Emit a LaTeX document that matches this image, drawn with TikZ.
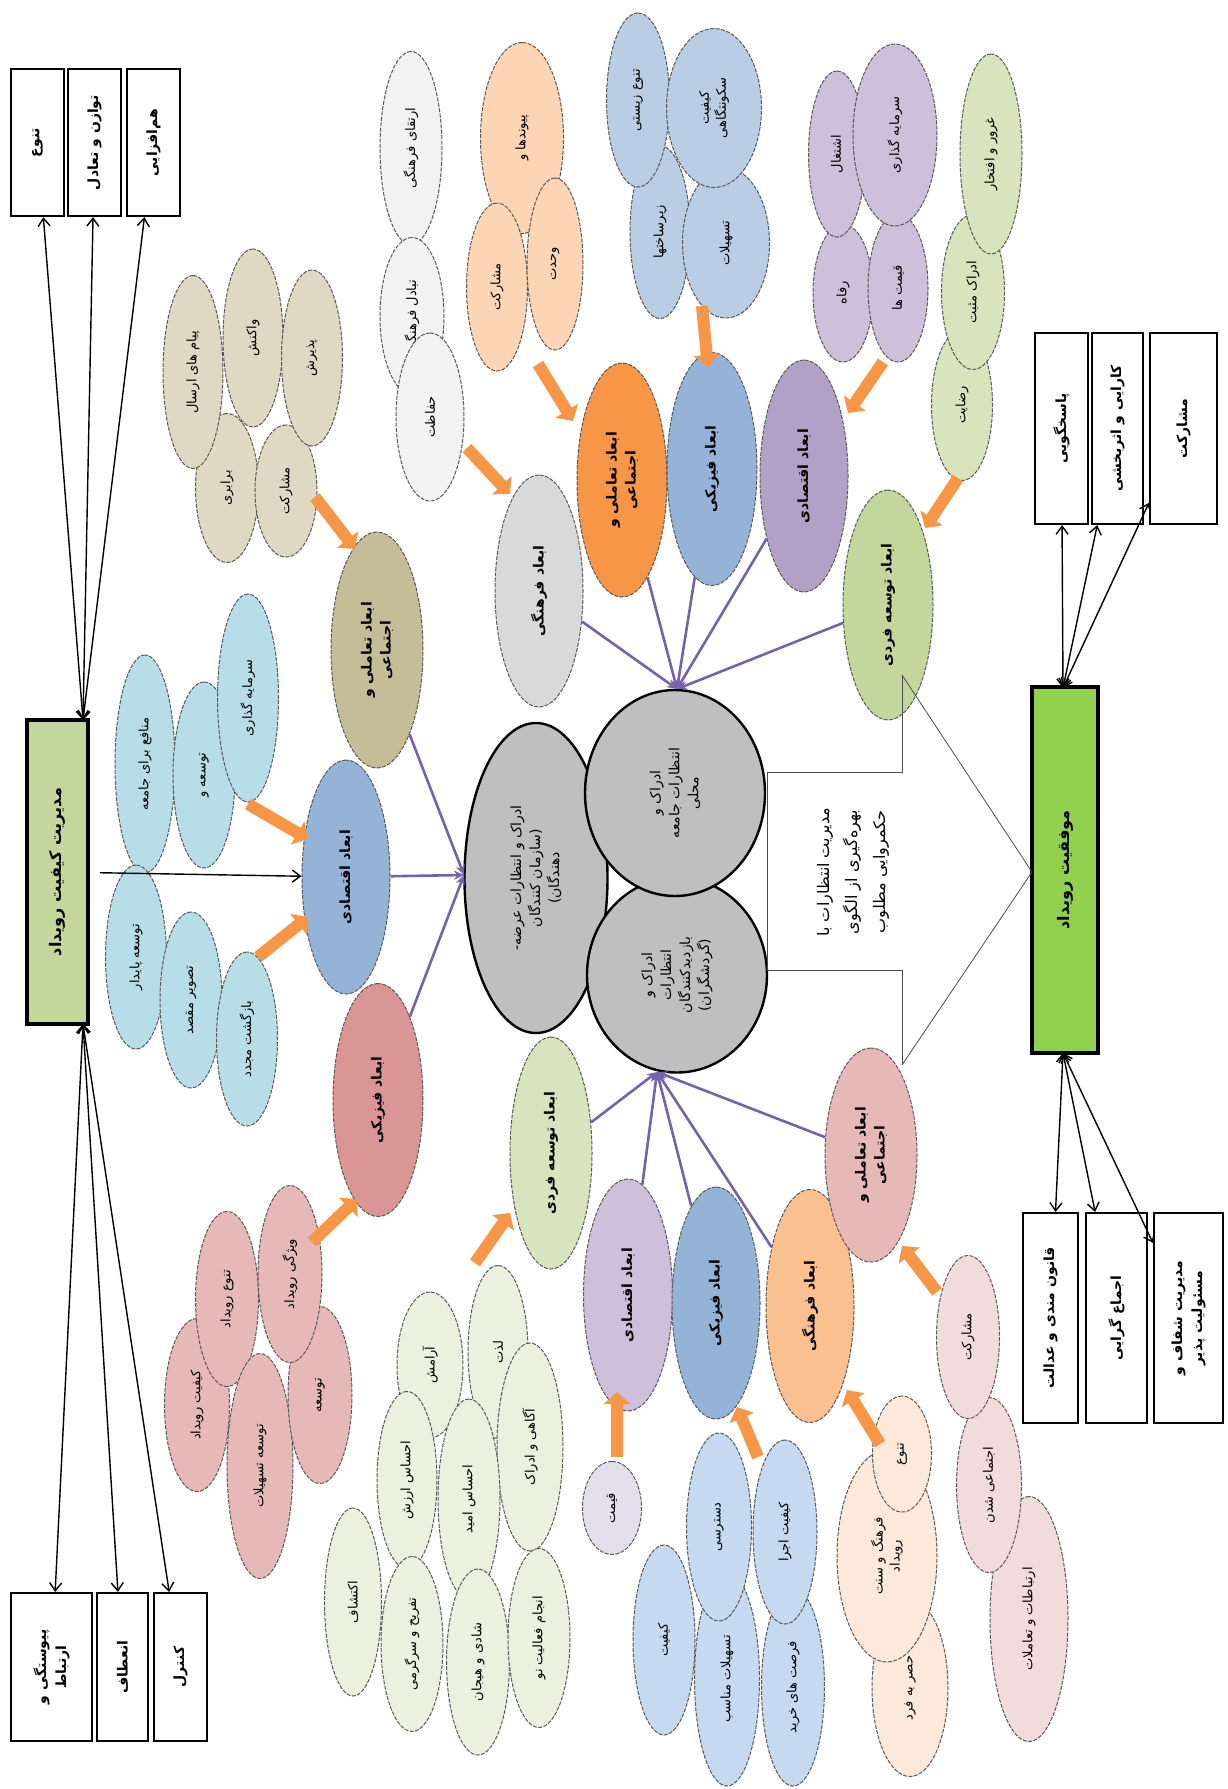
\documentclass[tikz,border=0pt]{standalone}
\usepackage{fontspec}
\usetikzlibrary{shapes.geometric,arrows.meta}
\newfontfamily\persfont[Script=Arabic]{DejaVu Sans}
\TeXXeTstate=1
\newcommand{\fr}[1]{\beginR #1\endR}
\newcommand{\mkel}[7]{\node[#1,minimum width=#6*0.5pt,minimum height=#5*0.5pt] (#2) at (#3,#4) {#7};}
\definecolor{cLB}{HTML}{B7DDE8}
\definecolor{cEco}{HTML}{95B3D7}
\definecolor{cKh}{HTML}{DDD9C3}
\definecolor{cOl}{HTML}{C4BD97}
\definecolor{cPk}{HTML}{E6B9B8}
\definecolor{cPkD}{HTML}{DA9694}
\definecolor{cGray}{HTML}{BFBFBF}
\definecolor{cGrD}{HTML}{D9D9D9}
\definecolor{cLG}{HTML}{F2F2F2}
\definecolor{cPe}{HTML}{FCD5B5}
\definecolor{cOr}{HTML}{F79646}
\definecolor{cLBb}{HTML}{B9CDE5}
\definecolor{cPuL}{HTML}{CCC0DA}
\definecolor{cPuD}{HTML}{B2A1C7}
\definecolor{cGnL}{HTML}{D7E4BD}
\definecolor{cGnD}{HTML}{C3D69B}
\definecolor{cEm}{HTML}{EBF1DE}
\definecolor{cQ}{HTML}{E4DFEC}
\definecolor{cLBc}{HTML}{C5D9F1}
\definecolor{cOrL}{HTML}{FAC090}
\definecolor{cPeL}{HTML}{FDE9D9}
\definecolor{cPkL}{HTML}{F2DCDB}
\definecolor{cArr}{HTML}{F79646}
\definecolor{cPl}{RGB}{118,98,170}
\definecolor{cBoxA}{HTML}{C3D69B}
\definecolor{cBoxB}{HTML}{92D050}
\begin{document}
\begin{tikzpicture}[x=0.5pt,y=-0.5pt,
 base/.style={rotate=90, align=center, inner sep=0pt, text=black},
 sub/.style={base, ellipse, draw=black!65, line width=0.5pt, dash pattern=on 2pt off 0.7pt, font=\persfont\fontsize{6.5}{8.5}\selectfont},
 dimn/.style={sub, font=\persfont\bfseries\fontsize{7}{9.5}\selectfont},
 cen/.style={base, ellipse, draw=black, line width=1.2pt, fill=cGray, font=\persfont\fontsize{7}{9.5}\selectfont},
 box/.style={base, rectangle, draw=black, line width=1.1pt, fill=white, font=\persfont\bfseries\fontsize{7}{10}\selectfont},
 mbox/.style={box, line width=1.8pt, font=\persfont\bfseries\fontsize{8}{10}\selectfont},
 note/.style={base, font=\persfont\fontsize{8}{14}\selectfont},
 oarr/.style={draw=cArr, line width=6pt, -{Triangle[width=13pt,length=6pt]}},
 parr/.style={draw=cPl, line width=1.3pt, -{Stealth[length=5pt,width=4.5pt]}},
 barr/.style={draw=black, line width=0.7pt, {Straight Barb[length=4pt,width=6pt]}-{Straight Barb[length=4pt,width=6pt]}},
 sarr/.style={draw=black, line width=0.7pt, -{Straight Barb[length=4pt,width=6pt]}},
 thin/.style={draw=black!70, line width=0.4pt}]
\fill[white] (0,0) rectangle (1227,1789);
\useasboundingbox (0,0) rectangle (1227,1789);

% ---------- boxes left ----------
\node[box,minimum width=73.5pt,minimum height=26.5pt] (tb1) at (37.5,142.5) {\fr{تنوع}};
\node[box,minimum width=73.5pt,minimum height=26.5pt] (tb2) at (94.5,142.5) {\fr{توازن و تعادل}};
\node[box,minimum width=73.5pt,minimum height=26.5pt] (tb3) at (153.5,142.5) {\fr{هم‌افزایی}};
\node[mbox,fill=cBoxA,minimum width=152pt,minimum height=30.5pt] (mq) at (57.5,872) {\fr{مدیریت کیفیت رویداد}};
\node[box,minimum width=74pt,minimum height=40.5pt] (bb1) at (51.5,1667) {\fr{پیوستگی و}\\\fr{ارتباط}};
\node[box,minimum width=74pt,minimum height=25.5pt] (bb2) at (122.5,1667) {\fr{انعطاف}};
\node[box,minimum width=74pt,minimum height=26.5pt] (bb3) at (180.5,1667) {\fr{کنترل}};

% ---------- boxes right ----------
\node[box,minimum width=95.5pt,minimum height=26.5pt] (rb1) at (1061.5,428.5) {\fr{پاسخگویی}};
\node[box,minimum width=95.5pt,minimum height=25.5pt] (rb2) at (1117.5,428.5) {\fr{کارایی و اثربخشی}};
\node[box,minimum width=95.5pt,minimum height=33.5pt] (rb3) at (1183.5,428.5) {\fr{مشارکت}};
\node[mbox,fill=cBoxB,minimum width=183pt,minimum height=33pt] (ms) at (1065,870) {\fr{موفقیت رویداد}};
\node[box,minimum width=105pt,minimum height=27.5pt] (rb4) at (1050.5,1318) {\fr{قانون مندی و عدالت}};
\node[box,minimum width=105pt,minimum height=30.5pt] (rb5) at (1116.5,1318) {\fr{اجماع گرایی}};
\node[box,minimum width=105pt,minimum height=34.5pt] (rb6) at (1188.5,1318) {\fr{مدیریت شفاف و}\\\fr{مسئولیت پذیر}};

\node[note] (gov) at (853,872) {\fr{مدیریت انتظارات با}\\\fr{بهره‌گیری از الگوی}\\\fr{حکمروایی مطلوب}};

% ---------- left economic cluster ----------
\mkel{sub,fill=cLB}{lb1}{145}{764}{60}{218}{\fr{منافع برای جامعه}}
\mkel{sub,fill=cLB}{lb2}{204}{775}{62}{186}{\fr{توسعه و}}
\mkel{sub,fill=cLB}{lb3}{248}{698}{61}{208}{\fr{سرمایه گذاری}}
\mkel{sub,fill=cLB}{lb4}{136}{957}{61}{184}{\fr{توسعه پایدار}}
\mkel{sub,fill=cLB}{lb5}{191}{1000}{62}{176}{\fr{تصویر مقصد}}
\mkel{sub,fill=cLB}{lb6}{247}{1039}{61}{174}{\fr{بازگشت مجدد}}
\mkel{dimn,fill=cEco}{dEcoL}{346}{877}{88}{234}{\fr{ابعاد اقتصادی}}

% ---------- left social cluster ----------
\mkel{sub,fill=cKh}{kh4}{227}{488}{63}{149}{\fr{برابری}}
\mkel{sub,fill=cKh}{kh5}{286}{491}{62}{132}{\fr{مشارکت}}
\mkel{sub,fill=cKh}{kh1}{193}{372}{60}{193}{\fr{پیام های ارسال}}
\mkel{sub,fill=cKh}{kh2}{253}{338}{60}{178}{\fr{واکنش}}
\mkel{sub,fill=cKh}{kh3}{312}{358}{61}{176}{\fr{پذیرش}}
\mkel{dimn,fill=cOl}{dSocL}{377}{650}{92}{236}{\fr{ابعاد تعاملی و}\\\fr{اجتماعی}}

% ---------- left physical cluster ----------
\mkel{sub,fill=cPk}{pk1}{197}{1405}{65}{173}{\fr{کیفیت رویداد}}
\mkel{sub,fill=cPk}{pk2}{227}{1299}{63}{175}{\fr{تنوع رویداد}}
\mkel{sub,fill=cPk}{pk3}{260}{1466}{66}{225}{\fr{توسعه تسهیلات}}
\mkel{sub,fill=cPk}{pk5}{320}{1395}{64}{177}{\fr{توسعه}}
\mkel{sub,fill=cPk}{pk4}{290}{1274}{64}{177}{\fr{ویژگی رویداد}}
\mkel{dimn,fill=cPkD}{dPhyL}{378}{1100}{90}{233}{\fr{ابعاد فیزیکی}}

% ---------- centre ----------
\mkel{cen}{cS}{536}{878}{143}{310}{\fr{ادراک و انتظارات عرضه-}\\\fr{(سازمان کنندگان}\\\fr{دهندگان)}}
\mkel{cen}{cV}{677}{975}{180}{195}{\fr{ادراک و}\\\fr{انتظارات}\\\fr{بازدیدکنندگان}\\\fr{(گردشگران)}}
\mkel{cen}{cL}{675}{793}{180}{206}{\fr{ادراک و}\\\fr{انتظارات جامعه}\\\fr{محلی}}

% ---------- upper clusters ----------
\mkel{sub,fill=cLG}{lg1}{411}{148}{62}{193}{\fr{ارتقای فرهنگی}}
\mkel{sub,fill=cLG}{lg2}{412}{316}{64}{157}{\fr{تبادل فرهنگی}}
\mkel{sub,fill=cLG}{lg3}{430}{417}{68}{168}{\fr{حفاظت}}
\mkel{dimn,fill=cGrD}{dCulU}{539}{591}{88}{232}{\fr{ابعاد فرهنگی}}

\mkel{sub,fill=cPe}{pe1}{522}{138}{83}{191}{\fr{پیوندها و}}
\mkel{sub,fill=cPe}{pe2}{497}{287}{61}{168}{\fr{مشارکت}}
\mkel{sub,fill=cPe}{pe3}{555}{264}{56}{172}{\fr{وحدت}}
\mkel{dimn,fill=cOr}{dSocU}{622}{480}{90}{234}{\fr{ابعاد تعاملی و}\\\fr{اجتماعی}}

\mkel{sub,fill=cLBb}{bl2}{660}{232}{60}{173}{\fr{زیرساختها}}
\mkel{sub,fill=cLBb}{bl4}{726}{243}{87}{150}{\fr{تسهیلات}}
\mkel{sub,fill=cLBb}{bl1}{638}{100}{63}{174}{\fr{تنوع زیستی}}
\mkel{sub,fill=cLBb}{bl3}{714}{108}{95}{159}{\fr{کیفیت}\\\fr{سکونتگاهی}}
\mkel{dimn,fill=cEco}{dPhyU}{712}{469}{90}{233}{\fr{ابعاد فیزیکی}}

\mkel{sub,fill=cPuL}{pu3}{843}{293}{60}{138}{\fr{رفاه}}
\mkel{sub,fill=cPuL}{pu4}{898}{288}{60}{148}{\fr{قیمت ها}}
\mkel{sub,fill=cPuL}{pu1}{837}{154}{57}{166}{\fr{اشتغال}}
\mkel{sub,fill=cPuL}{pu2}{895}{135}{84}{182}{\fr{سرمایه گذاری}}
\mkel{dimn,fill=cPuD}{dEcoU}{804}{476}{88}{232}{\fr{ابعاد اقتصادی}}

\mkel{sub,fill=cGnL}{gr3}{962}{405}{61}{151}{\fr{رضایت}}
\mkel{sub,fill=cGnL}{gr2}{973}{292}{63}{155}{\fr{ادراک مثبت}}
\mkel{sub,fill=cGnL}{gr1}{991}{154}{62}{200}{\fr{غرور و افتخار}}
\mkel{dimn,fill=cGnD}{dDevU}{888}{605}{90}{230}{\fr{ابعاد توسعه فردی}}

% ---------- lower clusters ----------
\mkel{dimn,fill=cGnL}{dDevL}{551}{1153}{82}{232}{\fr{ابعاد توسعه فردی}}
\mkel{sub,fill=cEm}{em1}{430}{1365}{66}{146}{\fr{آرامش}}
\mkel{sub,fill=cEm}{em2}{498}{1352}{60}{173}{\fr{لذت}}
\mkel{sub,fill=cEm}{em5}{530}{1447}{66}{208}{\fr{آگاهی و ادراک}}
\mkel{sub,fill=cEm}{em3}{407}{1480}{60}{177}{\fr{احساس ارزش}}
\mkel{sub,fill=cEm}{em4}{469}{1499}{62}{200}{\fr{احساس امید}}
\mkel{sub,fill=cEm}{em9}{353}{1602}{57}{188}{\fr{اکتشاف}}
\mkel{sub,fill=cEm}{em6}{412}{1644}{62}{175}{\fr{تفریح و سرگرمی}}
\mkel{sub,fill=cEm}{em7}{478}{1662}{63}{186}{\fr{شادی و هیجان}}
\mkel{sub,fill=cEm}{em8}{539}{1638}{62}{179}{\fr{انجام فعالیت نو}}

\mkel{dimn,fill=cPuL}{dEcoB}{628}{1295}{89}{232}{\fr{ابعاد اقتصادی}}
\mkel{sub,fill=cQ}{qe}{612}{1508}{59}{93}{\fr{قیمت}}

\mkel{dimn,fill=cEco}{dPhyB}{716}{1303}{88}{232}{\fr{ابعاد فیزیکی}}
\mkel{sub,fill=cLBc}{lc3}{664}{1640}{62}{190}{\fr{کیفیت}}
\mkel{sub,fill=cLBc}{lc4}{727}{1679}{65}{214}{\fr{تسهیلات مناسب}}
\mkel{sub,fill=cLBc}{lc5}{793}{1687}{63}{198}{\fr{فرصت های خرید}}
\mkel{sub,fill=cLBc}{lc1}{719}{1527}{65}{188}{\fr{دسترسی}}
\mkel{sub,fill=cLBc}{lc2}{785}{1532}{64}{184}{\fr{کیفیت اجرا}}

\mkel{dimn,fill=cOrL}{dCulB}{810}{1306}{88}{233}{\fr{ابعاد فرهنگی}}
\mkel{sub,fill=cPeL}{pc3}{910}{1688}{76}{177}{\fr{حصر به فرد}}
\mkel{sub,fill=cPeL}{pc2}{887}{1556}{100}{212}{\fr{فرهنگ و سنت}\\\fr{رویداد}}
\mkel{sub,fill=cPeL}{pc1}{902}{1454}{59}{116}{\fr{تنوع}}

\mkel{dimn,fill=cPk}{dSocB}{871}{1155}{92}{214}{\fr{ابعاد تعاملی و}\\\fr{اجتماعی}}
\mkel{sub,fill=cPkL}{pl3}{1029}{1619}{78}{245}{\fr{ارتباطات و تعاملات}}
\mkel{sub,fill=cPkL}{pl2}{989}{1485}{65}{175}{\fr{اجتماعی شدن}}
\mkel{sub,fill=cPkL}{pl1}{968}{1337}{63}{163}{\fr{مشارکت}}

% ---------- purple connectors ----------
\coordinate (cUp) at (677,689);
\coordinate (cDn) at (657,1072);
\coordinate (cLf) at (464,875);
\foreach \n in {dCulU,dSocU,dPhyU,dEcoU,dDevU} \draw[parr] (\n) -- (cUp);
\foreach \n in {dDevL,dEcoB,dPhyB,dCulB,dSocB} \draw[parr] (\n) -- (cDn);
\foreach \n in {dEcoL,dSocL,dPhyL} \draw[parr] (\n) -- (cLf);

% ---------- black connectors ----------
\coordinate (mqT) at (83,720);
\coordinate (mqB) at (83,1024);
\coordinate (msT) at (1063,688);
\coordinate (msB) at (1063,1053);
\foreach \n in {tb1,tb2,tb3} \draw[barr] (\n) -- (mqT);
\foreach \n in {bb1,bb2,bb3} \draw[barr] (mqB) -- (\n);
\foreach \n in {rb1,rb2,rb3} \draw[barr] (\n) -- (msT);
\foreach \n in {rb4,rb5,rb6} \draw[barr] (msB) -- (\n);
\draw[sarr,shorten <=5pt] (mq) -- (dEcoL);

% ---------- bracket lines ----------
\coordinate (g1) at (902,675);
\coordinate (g2) at (902,772);
\coordinate (g3) at (767,772);
\coordinate (g4) at (767,970);
\coordinate (g5) at (902,970);
\coordinate (g6) at (902,1065);
\coordinate (gm) at (1032,872);
\draw[thin] (g1) -- (g2) -- (g3) -- (g4) -- (g5) -- (g6);
\draw[thin] (g1) -- (gm) -- (g6);

% ---------- orange arrows ----------
\foreach \i/\a/\b/\c/\d in {1/248/804/308/839, 2/258/957/308/917, 3/315/497/355/549, 4/312/1242/357/1199,
 5/467/448/510/494, 6/538/364/573/421, 7/702/306/708/367, 8/883/362/848/413, 9/958/478/925/528,
 10/475/1263/510/1213, 11/617/1457/617/1392, 12/758/1457/737/1407, 13/880/1444/847/1390, 14/937/1292/902/1246}
 {\coordinate (os\i) at (\a,\b); \coordinate (oe\i) at (\c,\d); \draw[oarr] (os\i) -- (oe\i);}
\end{tikzpicture}
\end{document}
